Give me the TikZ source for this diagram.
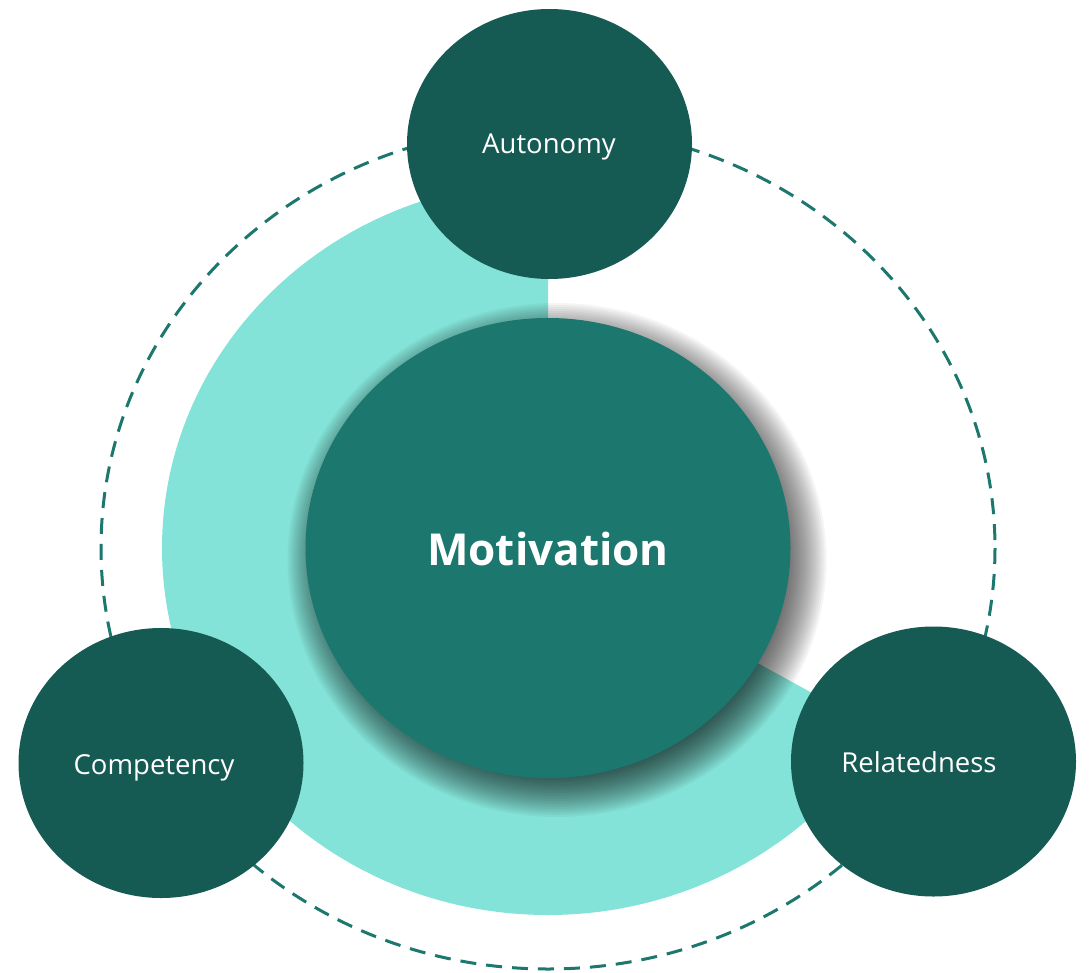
\documentclass[tikz,border=0pt]{standalone}
\usepackage{fontspec}
\setmainfont{Open Sans}
\usetikzlibrary{shapes.geometric,calc}
\definecolor{darkc}{HTML}{165B53}
\definecolor{midc}{HTML}{1C786E}
\definecolor{lightc}{HTML}{84E3D8}
\tikzset{
  satellite/.style={ellipse, fill=darkc, inner sep=0pt, minimum width=285pt, minimum height=270pt},
  satlabel/.style={text=white, inner sep=0pt, anchor=base, font=\fontsize{27.5}{32}\selectfont},
  core/.style={ellipse, fill=midc, inner sep=0pt, minimum width=485pt, minimum height=460pt},
  corelabel/.style={text=white, inner sep=0pt, anchor=base, font=\fontsize{44}{52}\selectfont\bfseries},
  ring/.style={draw=midc, line width=3pt, dash pattern=on 16pt off 10pt}
}
\begin{document}
\begin{tikzpicture}[x=1pt,y=-1pt]
\useasboundingbox (0,0) rectangle (1089,972);
\coordinate (c) at (548,548);
\coordinate (sh) at (557,560);
\fill[lightc] (c) -- ++(0,-367) arc[start angle=270, end angle=30, x radius=386, y radius=367] -- cycle;
\draw[ring] (c) ellipse[x radius=447, y radius=421];
\foreach \i in {0,...,27}{
  \fill[black, opacity=0.04] (sh) ellipse[x radius={242.5+27-2*\i}, y radius={230+27-2*\i}];
}
\node[core] (mot) at (c) {};
\node[corelabel] (motl) at (548,565) {Motivation};
\node[satellite] (aut) at (549.5,144) {};
\node[satellite] (com) at (161,763) {};
\node[satellite] (rel) at (933.5,761.5) {};
\node[satlabel] (autl) at (549,153) {Autonomy};
\node[satlabel] (coml) at (154,774) {Competency};
\node[satlabel] (rell) at (919,772) {Relatedness};
\end{tikzpicture}
\end{document}
